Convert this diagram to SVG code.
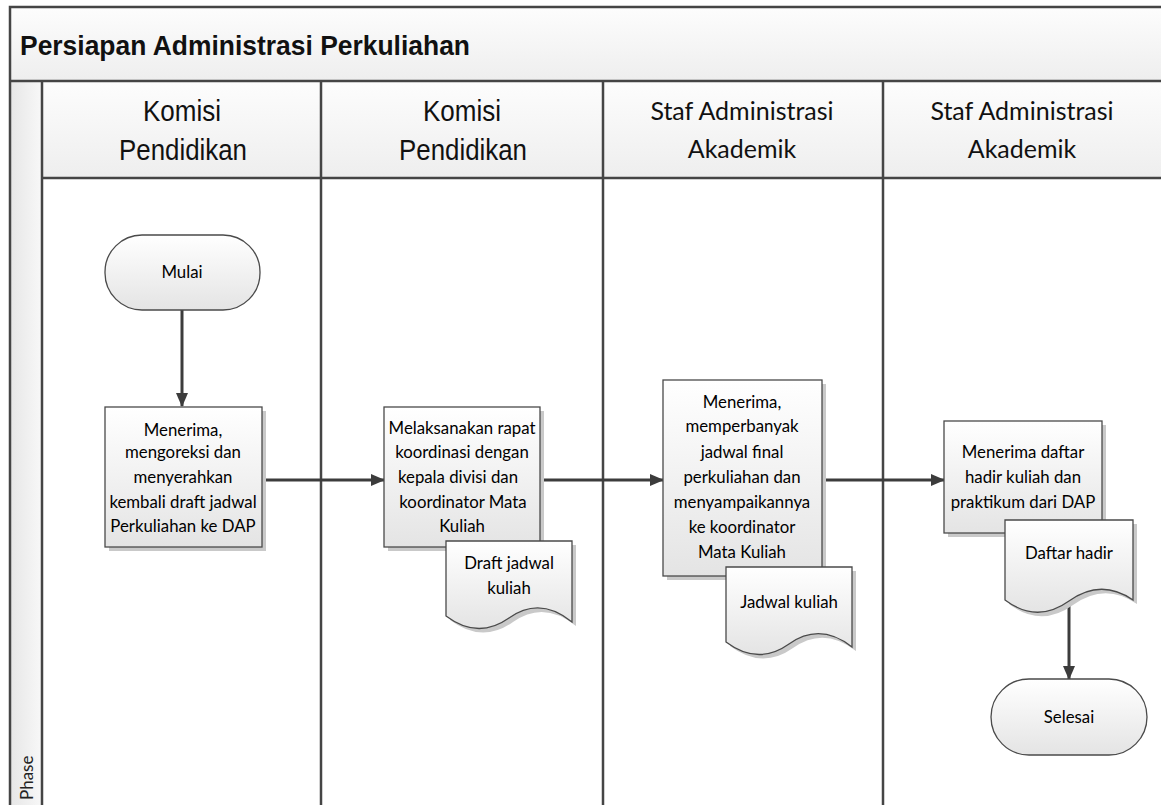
<svg xmlns="http://www.w3.org/2000/svg" width="1161" height="805" viewBox="0 0 1161 805">
<defs>
<linearGradient id="gBand" x1="0" y1="0" x2="0" y2="1"><stop offset="0" stop-color="#fdfdfd"/><stop offset="1" stop-color="#eeeeee"/></linearGradient>
<linearGradient id="gPhase" x1="0" y1="0" x2="1" y2="0"><stop offset="0" stop-color="#e6e6e6"/><stop offset="1" stop-color="#f8f8f8"/></linearGradient>
<linearGradient id="gNode" x1="0" y1="0" x2="0" y2="1"><stop offset="0" stop-color="#ffffff"/><stop offset="1" stop-color="#e4e4e4"/></linearGradient>
<marker id="arr" markerWidth="14" markerHeight="12" refX="13" refY="6" orient="auto" markerUnits="userSpaceOnUse"><path d="M0,0 L14,6 L0,12 Z" fill="#3c3c3c"/></marker>
<style>
.frame{stroke:#454545;stroke-width:2.5;fill:none}
.node{fill:url(#gNode);stroke:#4a4a4a;stroke-width:1.3}
.shadow{fill:#c9c9c9}
.t{font-family:Lato,"Open Sans",sans-serif;font-size:16.8px;fill:#000;text-anchor:middle}
.hd{font-family:Lato,"Open Sans",sans-serif;font-size:25px;fill:#111;text-anchor:middle}
.hk{font-family:"Liberation Sans",Arial,sans-serif;font-size:29px;fill:#111;text-anchor:middle}
.conn{stroke:#3c3c3c;stroke-width:3;fill:none;marker-end:url(#arr)}
</style>
</defs>
<rect x="0" y="0" width="1161" height="805" fill="#ffffff"/>
<g id="pool">
<rect x="10" y="7" width="1160" height="74" fill="url(#gBand)"/>
<rect x="42" y="81" width="1130" height="97" fill="url(#gBand)"/>
<rect x="10" y="81" width="32" height="730" fill="url(#gPhase)"/>
<path class="frame" d="M10,810 V7 H1170 M10,81 H1170 M42,81 V810 M42,178 H1170 M321,81 V810 M603,81 V810 M883,81 V810"/>
<text x="20" y="55" font-family="'Liberation Sans',Arial,sans-serif" font-weight="bold" font-size="27" fill="#111" textLength="450" lengthAdjust="spacingAndGlyphs">Persiapan Administrasi Perkuliahan</text>
<text class="hk" x="182" y="121" textLength="78" lengthAdjust="spacingAndGlyphs">Komisi</text>
<text class="hk" x="183" y="160" textLength="128" lengthAdjust="spacingAndGlyphs">Pendidikan</text>
<text class="hk" x="462" y="121" textLength="78" lengthAdjust="spacingAndGlyphs">Komisi</text>
<text class="hk" x="463" y="160" textLength="128" lengthAdjust="spacingAndGlyphs">Pendidikan</text>
<text class="hd" x="742" y="120">Staf Administrasi</text>
<text class="hd" x="742" y="158">Akademik</text>
<text class="hd" x="1022" y="120">Staf Administrasi</text>
<text class="hd" x="1022" y="158">Akademik</text>
<text transform="translate(33,800) rotate(-90)" font-family="Lato,'Open Sans',sans-serif" font-size="17" fill="#222">Phase</text>
</g>
<g id="connectors">
<path class="conn" d="M182,310 V406"/>
<path class="conn" d="M262,480 H384"/>
<path class="conn" d="M540,480 H663"/>
<path class="conn" d="M822,480 H944"/>
<path class="conn" d="M1069,606 V679"/>
</g>
<g id="mulai">
<rect class="node" x="105" y="235" width="155" height="75" rx="37" ry="37"/>
<text class="t" x="182" y="278">Mulai</text>
</g>
<g id="p1">
<rect class="shadow" x="109" y="411" width="157" height="140"/>
<rect class="node" x="105" y="407" width="157" height="140"/>
<text class="t" x="183" y="436">Menerima,</text>
<text class="t" x="183" y="458">mengoreksi dan</text>
<text class="t" x="183" y="483">menyerahkan</text>
<text class="t" x="183" y="508">kembali draft jadwal</text>
<text class="t" x="183" y="532">Perkuliahan ke DAP</text>
</g>
<g id="p2">
<rect class="shadow" x="388" y="411" width="156" height="140"/>
<rect class="node" x="384" y="407" width="156" height="140"/>
<text class="t" x="462" y="434">Melaksanakan rapat</text>
<text class="t" x="462" y="458">koordinasi dengan</text>
<text class="t" x="458" y="483">kepala divisi dan</text>
<text class="t" x="463" y="508">koordinator Mata</text>
<text class="t" x="462" y="532">Kuliah</text>
</g>
<g id="d1">
<path class="shadow" transform="translate(4,4)" d="M446,541 H572 V622 Q540,596 509,618 T446,616 Z"/>
<path class="node" d="M446,541 H572 V622 Q540,596 509,618 T446,616 Z"/>
<text class="t" x="509" y="569">Draft jadwal</text>
<text class="t" x="509" y="594">kuliah</text>
</g>
<g id="p3">
<rect class="shadow" x="667" y="384" width="159" height="196"/>
<rect class="node" x="663" y="380" width="159" height="196"/>
<text class="t" x="742" y="408">Menerima,</text>
<text class="t" x="742" y="432">memperbanyak</text>
<text class="t" x="742" y="458">jadwal final</text>
<text class="t" x="742" y="483">perkuliahan dan</text>
<text class="t" x="742" y="508">menyampaikannya</text>
<text class="t" x="742" y="533">ke koordinator</text>
<text class="t" x="742" y="558">Mata Kuliah</text>
</g>
<g id="d2">
<path class="shadow" transform="translate(4,4)" d="M726,567 H852 V647 Q820,622 789,644 T726,642 Z"/>
<path class="node" d="M726,567 H852 V647 Q820,622 789,644 T726,642 Z"/>
<text class="t" x="789" y="608">Jadwal kuliah</text>
</g>
<g id="p4">
<rect class="shadow" x="948" y="425" width="158" height="112"/>
<rect class="node" x="944" y="421" width="158" height="112"/>
<text class="t" x="1023" y="458">Menerima daftar</text>
<text class="t" x="1023" y="483">hadir kuliah dan</text>
<text class="t" x="1023" y="508">praktikum dari DAP</text>
</g>
<g id="d3">
<path class="shadow" transform="translate(4,4)" d="M1005,520 H1133 V600 Q1101,578 1069,601 T1005,600 Z"/>
<path class="node" d="M1005,520 H1133 V600 Q1101,578 1069,601 T1005,600 Z"/>
<text class="t" x="1069" y="559">Daftar hadir</text>
</g>
<g id="selesai">
<rect class="node" x="991" y="679" width="156" height="76" rx="38" ry="38"/>
<text class="t" x="1069" y="723">Selesai</text>
</g>
</svg>
